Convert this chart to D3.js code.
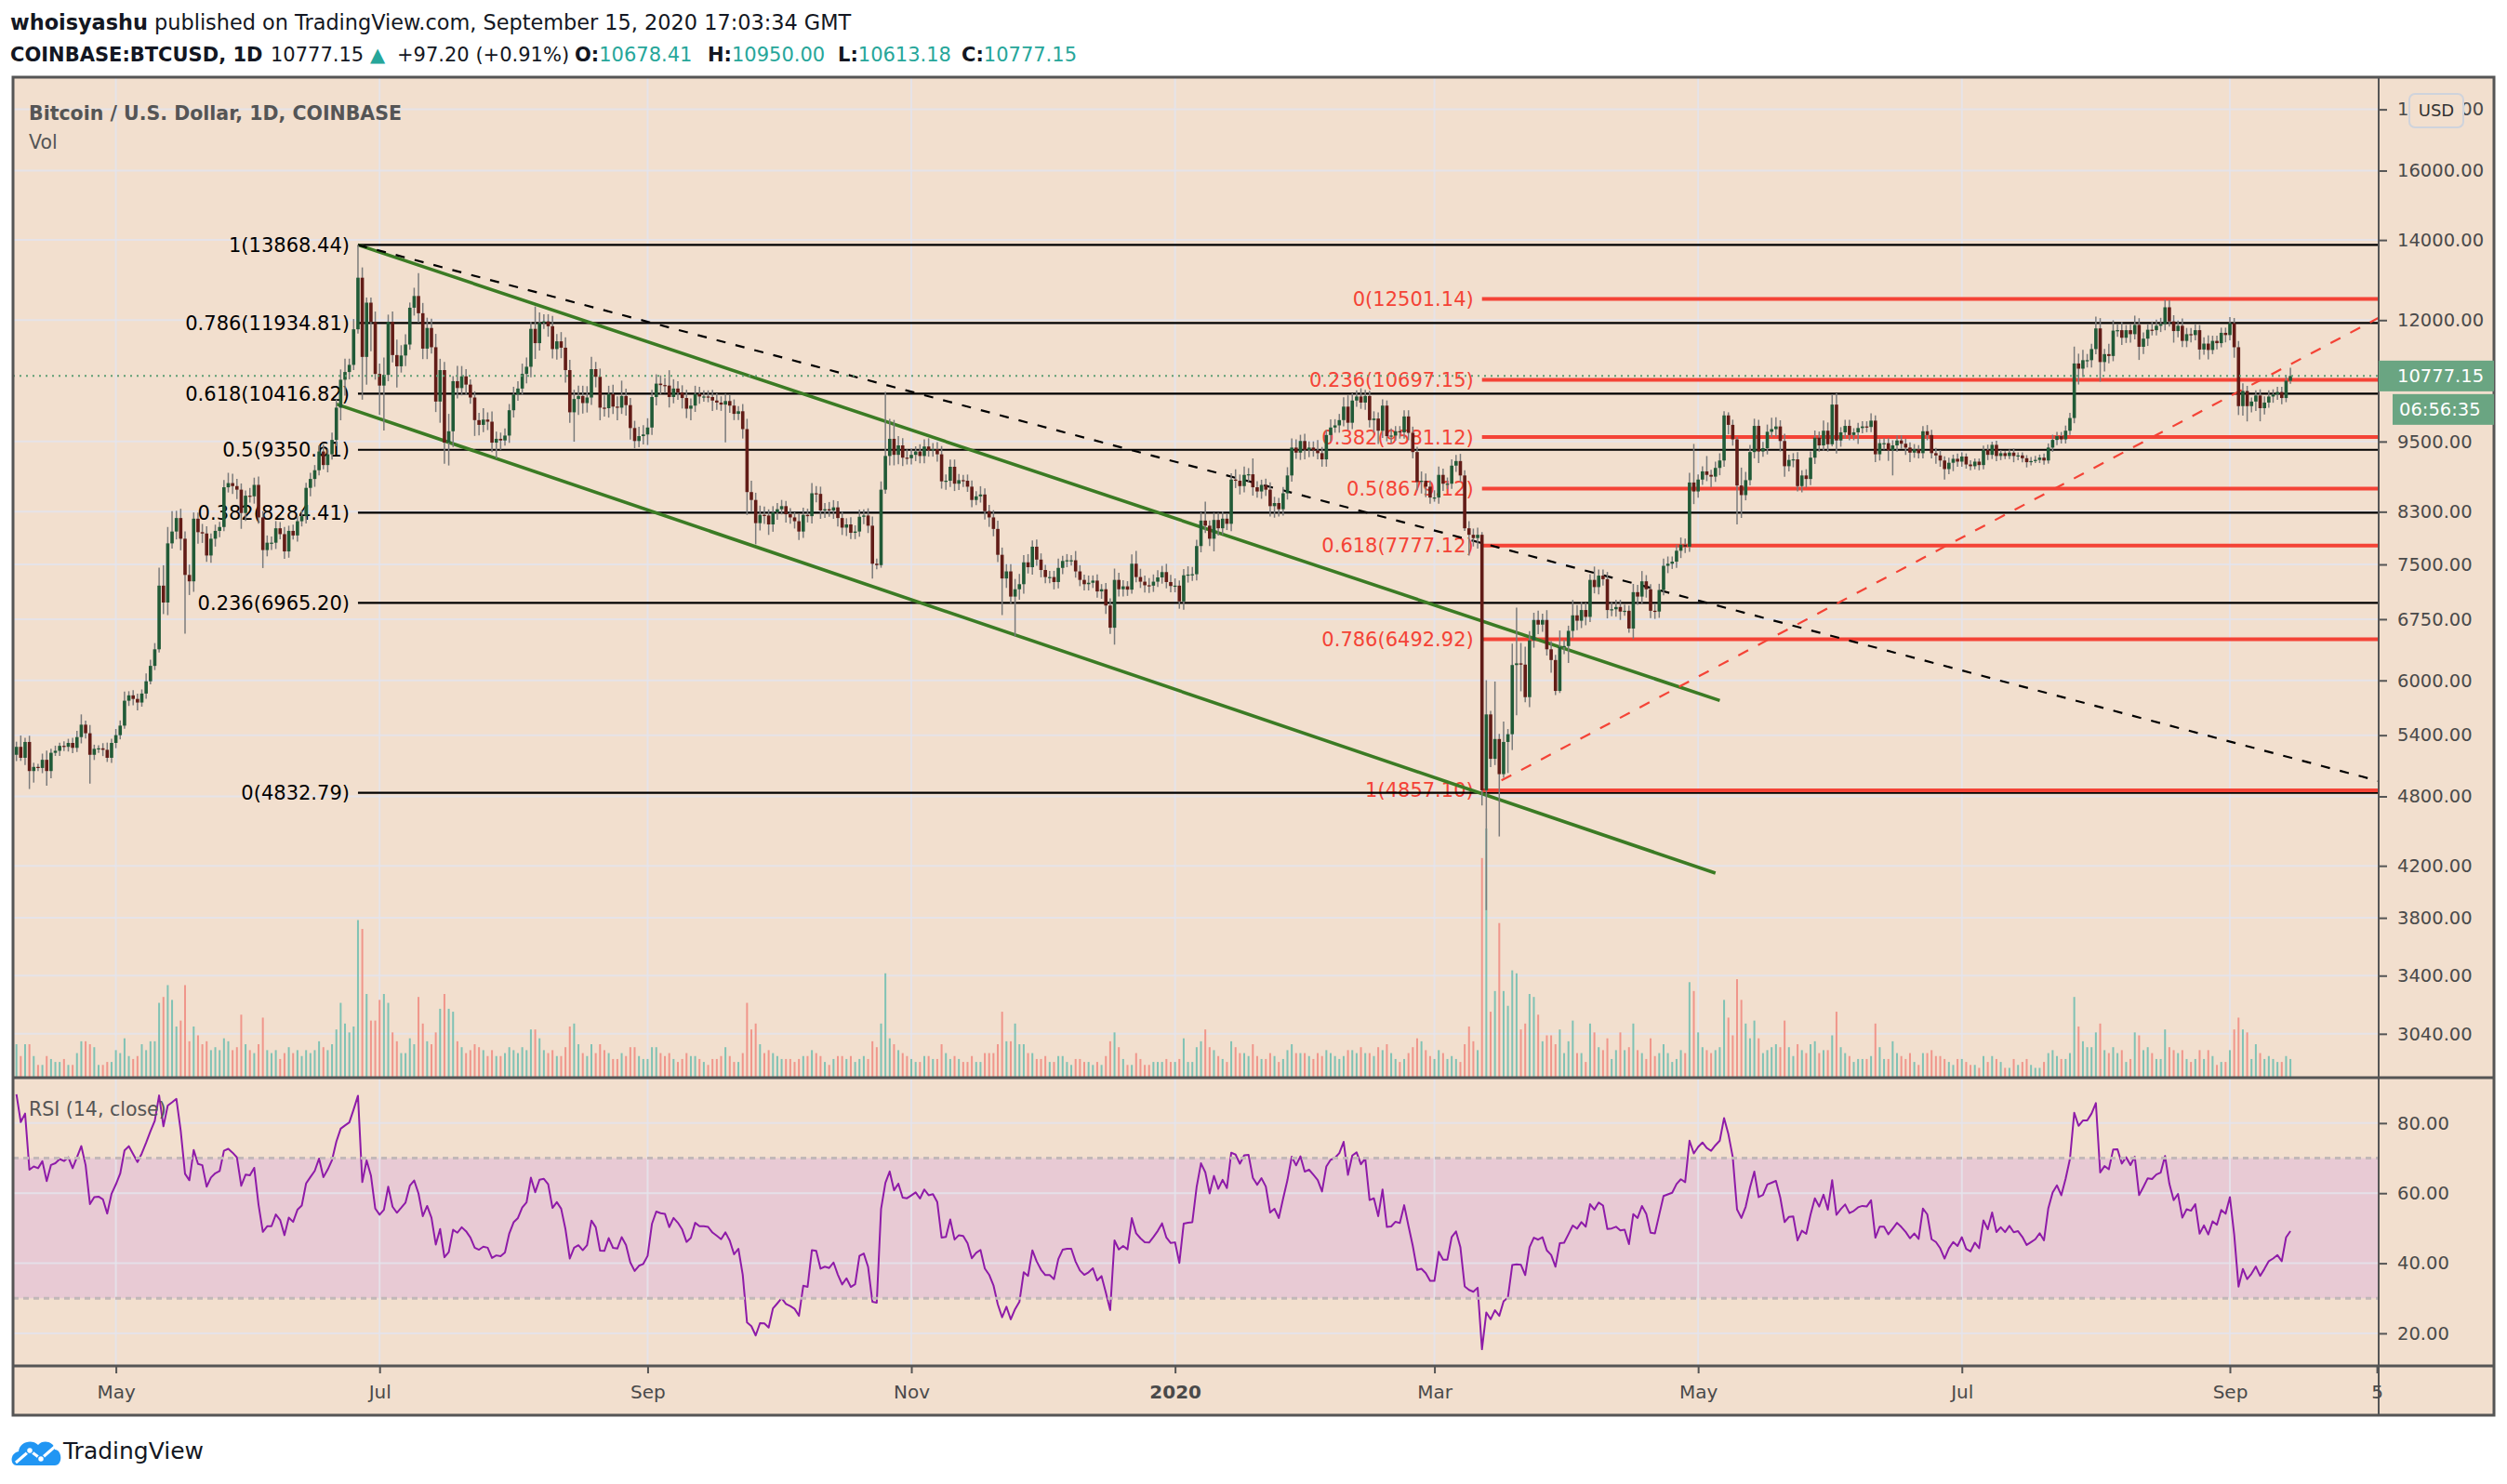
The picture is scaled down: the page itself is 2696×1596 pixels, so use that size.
<!DOCTYPE html>
<html>
<head>
<meta charset="utf-8">
<title>BTCUSD 1D</title>
<script src="https://cdn.jsdelivr.net/npm/d3@7"></script>
<style>
  html, body { margin: 0; padding: 0; background: #fff; }
  svg { display: block; }
</style>
</head>
<body>
<svg id="chart" width="2696" height="1596"></svg>
<script>
// ---------------- data ----------------
// daily bars from 2019-04-08 to 2020-09-15, grouped by month
const firstDay = Date.UTC(2019, 3, 8);
const monthLengths = [23, 31, 30, 31, 31, 30, 31, 30, 31, 31, 29, 31, 30, 31, 30, 31, 31, 15];

// closes of 2019-03-01 .. 2019-04-07 (only used to warm up the RSI)
const preCloses = [3835, 3830, 3800, 3715, 3860, 3875, 3880, 3865, 3945, 3920, 3870, 3885, 3870, 3865, 3910, 4000,
  3985, 3980, 4015, 4045, 3990, 3995, 4005, 3990, 3920, 3940, 4090, 4080, 4130, 4120, 4105,
  4145, 4890, 4960, 4910, 5040, 5060, 5200];

const closeRows = [
  [5280, 5170, 5330, 5040, 5080, 5070, 5150, 5040, 5220, 5240, 5290, 5280, 5320, 5270, 5380, 5510, 5420, 5200, 5260, 5265, 5250, 5170, 5320],
  [5400, 5500, 5770, 5830, 5790, 5750, 5850, 5990, 6170, 6370, 7200, 6970, 7810, 7990, 8200, 7880, 7350, 7260, 8190, 7980, 7960, 7630, 7880, 8000, 8060, 8700, 8770, 8720, 8660, 8280, 8560],
  [8550, 8740, 8210, 7710, 7820, 7820, 8040, 7950, 7690, 8000, 7930, 8150, 8230, 8690, 8840, 8990, 9320, 9080, 9270, 9530, 10140, 10700, 10860, 11010, 11790, 13020, 11180, 12410, 11960, 10820],
  [10580, 10800, 11960, 11220, 10980, 11210, 11450, 12290, 12570, 12160, 11360, 11820, 11390, 10260, 10900, 9480, 9690, 10670, 10530, 10770, 10600, 10340, 9900, 9810, 9910, 9870, 9480, 9550, 9520, 9610, 10090],
  [10400, 10520, 10820, 10970, 11800, 11480, 11940, 11970, 11860, 11350, 11520, 11380, 10900, 10050, 10310, 10370, 10230, 10340, 10920, 10760, 10140, 10130, 10410, 10160, 10140, 10370, 10190, 9750, 9510, 9600, 9630],
  [9760, 10350, 10620, 10590, 10580, 10350, 10520, 10440, 10330, 10120, 10180, 10410, 10360, 10360, 10350, 10280, 10240, 10200, 10270, 10180, 10020, 10070, 9730, 8620, 8490, 8120, 8250, 8240, 8100, 8290],
  [8340, 8390, 8260, 8210, 8150, 7990, 8250, 8230, 8600, 8590, 8320, 8340, 8320, 8370, 8200, 8050, 8100, 7970, 7990, 8220, 8240, 8080, 7510, 7490, 8660, 9240, 9550, 9260, 9430, 9210, 9200],
  [9260, 9320, 9240, 9410, 9340, 9360, 9270, 8800, 8810, 9050, 8760, 8820, 8810, 8710, 8490, 8550, 8580, 8310, 8210, 8030, 7640, 7300, 7400, 7050, 7150, 7220, 7530, 7460, 7760, 7570],
  [7420, 7320, 7320, 7250, 7450, 7550, 7560, 7560, 7400, 7280, 7220, 7240, 7270, 7120, 7150, 6930, 6640, 7280, 7150, 7190, 7145, 7510, 7320, 7255, 7205, 7200, 7255, 7315, 7390, 7250, 7195],
  [7200, 6985, 7345, 7355, 7360, 7770, 8160, 8080, 7880, 8170, 8040, 8190, 8110, 8830, 8810, 8720, 8910, 8920, 8700, 8630, 8740, 8660, 8390, 8440, 8340, 8600, 8900, 9390, 9300, 9510, 9350],
  [9390, 9340, 9290, 9180, 9620, 9760, 9800, 9900, 10160, 9850, 10280, 10360, 10240, 10370, 9900, 9930, 9700, 10180, 9600, 9610, 9690, 9670, 9970, 9660, 9310, 8790, 8810, 8710, 8530],
  [8530, 8910, 8760, 8760, 9070, 9150, 8900, 8040, 7940, 7890, 7940, 4857.1, 5620, 5160, 5360, 5010, 5330, 5410, 6180, 6200, 6185, 5810, 6480, 6740, 6680, 6740, 6370, 6240, 5880, 6400, 6410],
  [6600, 6800, 6730, 6870, 6780, 7280, 7180, 7340, 7290, 6870, 6880, 6910, 6850, 6860, 6630, 7110, 7050, 7260, 7150, 6860, 6850, 7140, 7480, 7510, 7540, 7700, 7790, 7760, 8780, 8630],
  [8830, 8970, 8910, 8880, 9030, 9160, 9990, 9810, 9540, 8730, 8570, 8820, 9310, 9790, 9320, 9380, 9680, 9730, 9780, 9510, 9060, 9170, 9180, 8720, 8900, 8840, 9210, 9570, 9430, 9700, 9450],
  [10200, 9520, 9670, 9790, 9620, 9670, 9750, 9780, 9770, 9890, 9270, 9470, 9470, 9340, 9430, 9520, 9460, 9390, 9300, 9360, 9290, 9690, 9620, 9290, 9250, 9160, 9010, 9120, 9190, 9140],
  [9230, 9090, 9060, 9140, 9080, 9350, 9260, 9440, 9240, 9290, 9240, 9300, 9240, 9250, 9200, 9130, 9150, 9170, 9210, 9160, 9390, 9530, 9600, 9540, 9700, 9940, 11040, 10930, 11110, 11110, 11350],
  [11810, 11070, 11240, 11200, 11760, 11770, 11600, 11770, 11680, 11890, 11400, 11580, 11780, 11770, 11870, 11910, 12300, 11970, 11750, 11870, 11530, 11680, 11660, 11770, 11340, 11470, 11330, 11530, 11480, 11710, 11660],
  [11930, 11390, 10170, 10470, 10170, 10260, 10380, 10130, 10240, 10360, 10400, 10450, 10330, 10678.41, 10777.15]
];

// upper / lower wick beyond the candle body, in per mille of the body end
const wickUpRows = [
  [10, 22, 8, 12, 8, 6, 12, 18, 8, 10, 6, 9, 8, 10, 12, 20, 8, 16, 8, 6, 10, 14, 8],
  [12, 10, 18, 8, 10, 10, 8, 15, 12, 12, 35, 40, 32, 40, 14, 18, 14, 20, 12, 12, 16, 14, 10, 12, 10, 14, 20, 18, 14, 12, 10],
  [15, 14, 16, 12, 14, 12, 14, 12, 14, 10, 12, 10, 12, 10, 12, 10, 12, 14, 10, 14, 16, 20, 26, 12, 20, 65, 20, 10, 10, 20],
  [20, 34, 14, 20, 30, 20, 20, 10, 16, 45, 20, 20, 18, 26, 22, 16, 34, 10, 30, 20, 14, 10, 12, 14, 22, 14, 20, 14, 12, 14, 12],
  [15, 14, 20, 18, 14, 44, 20, 14, 14, 20, 14, 18, 20, 20, 18, 20, 20, 22, 24, 14, 16, 24, 16, 18, 20, 30, 14, 14, 14, 18, 18],
  [18, 14, 18, 16, 14, 30, 18, 14, 14, 16, 14, 16, 14, 12, 12, 14, 14, 12, 14, 12, 12, 10, 14, 20, 22, 14, 18, 16, 12, 12],
  [12, 12, 10, 12, 10, 14, 14, 12, 20, 14, 14, 12, 14, 14, 12, 12, 12, 14, 12, 14, 12, 14, 18, 10, 16, 131, 39, 37, 18, 14, 16],
  [12, 10, 14, 14, 16, 12, 14, 16, 12, 14, 14, 12, 10, 12, 12, 10, 16, 12, 12, 14, 16, 14, 14, 14, 20, 20, 14, 16, 12, 14],
  [12, 10, 12, 12, 18, 10, 12, 10, 18, 12, 10, 14, 10, 12, 10, 12, 14, 22, 14, 12, 10, 18, 25, 16, 12, 14, 14, 14, 12, 16, 14],
  [14, 10, 12, 16, 14, 12, 16, 37, 10, 14, 14, 14, 10, 12, 20, 12, 16, 12, 31, 12, 10, 12, 14, 12, 10, 12, 16, 18, 16, 12, 14],
  [12, 12, 20, 12, 10, 16, 12, 12, 18, 22, 14, 12, 16, 12, 10, 14, 12, 12, 10, 14, 10, 10, 12, 12, 12, 10, 18, 14, 12],
  [14, 16, 12, 12, 12, 12, 14, 10, 14, 12, 14, 5, 68, 7, 117, 10, 40, 10, 42, 113, 40, 35, 18, 14, 18, 12, 19, 16, 10, 32, 12],
  [10, 30, 20, 16, 14, 11, 26, 12, 12, 14, 14, 14, 14, 12, 10, 16, 14, 20, 12, 10, 14, 12, 14, 14, 10, 12, 14, 12, 19, 77],
  [10, 10, 30, 10, 12, 14, 8, 6, 10, 5, 35, 16, 14, 14, 12, 12, 14, 22, 18, 12, 14, 10, 12, 14, 10, 12, 12, 14, 12, 20, 16],
  [20, 22, 10, 12, 12, 8, 10, 10, 10, 14, 10, 8, 10, 10, 10, 10, 10, 10, 10, 10, 8, 10, 12, 10, 10, 10, 8, 10, 8, 10],
  [8, 6, 8, 6, 6, 8, 10, 6, 8, 6, 4, 6, 8, 6, 6, 6, 8, 8, 6, 8, 8, 10, 8, 8, 10, 10, 33, 19, 20, 12, 10],
  [23, 20, 10, 20, 20, 12, 16, 10, 12, 18, 13, 12, 10, 16, 12, 12, 15, 14, 12, 10, 14, 12, 12, 12, 10, 12, 16, 10, 10, 10, 10],
  [12, 10, 12, 15, 10, 8, 10, 12, 12, 12, 10, 10, 10, 11, 16]
];
const wickDnRows = [
  [12, 6, 14, 34, 22, 6, 10, 28, 14, 6, 10, 8, 9, 10, 8, 12, 10, 54, 10, 8, 12, 8, 10],
  [10, 8, 6, 10, 12, 15, 8, 10, 6, 8, 6, 22, 24, 10, 15, 22, 107, 26, 20, 22, 18, 12, 14, 15, 12, 8, 10, 15, 18, 30, 15],
  [12, 14, 12, 34, 12, 14, 12, 10, 14, 12, 8, 12, 10, 14, 16, 15, 10, 8, 14, 10, 12, 24, 30, 14, 10, 8, 79, 52, 55, 11],
  [55, 83, 12, 14, 40, 12, 20, 10, 15, 18, 20, 20, 12, 20, 40, 40, 43, 30, 20, 14, 20, 12, 30, 20, 14, 16, 18, 30, 18, 10, 14],
  [14, 12, 12, 18, 20, 30, 14, 12, 20, 18, 20, 20, 24, 20, 55, 30, 20, 18, 14, 20, 24, 16, 18, 14, 24, 12, 20, 22, 14, 12, 16],
  [20, 14, 16, 18, 14, 20, 12, 14, 20, 18, 22, 12, 14, 10, 10, 20, 14, 12, 70, 14, 12, 12, 18, 43, 22, 40, 14, 16, 20, 14],
  [14, 10, 16, 12, 14, 16, 12, 12, 14, 16, 16, 14, 12, 16, 16, 14, 16, 12, 12, 10, 14, 14, 28, 8, 5, 8, 18, 20, 18, 16, 12],
  [12, 12, 14, 14, 12, 12, 14, 14, 16, 12, 14, 12, 12, 10, 14, 10, 12, 16, 18, 14, 14, 68, 18, 14, 74, 20, 18, 12, 14, 12],
  [14, 12, 12, 14, 12, 12, 12, 10, 12, 12, 12, 12, 10, 12, 14, 16, 12, 32, 14, 14, 12, 8, 10, 12, 14, 14, 12, 10, 12, 12, 12],
  [12, 14, 16, 14, 12, 12, 12, 14, 14, 24, 14, 12, 12, 14, 14, 16, 12, 14, 16, 12, 14, 12, 20, 22, 14, 12, 12, 12, 12, 14, 18],
  [14, 12, 12, 14, 14, 12, 10, 14, 12, 14, 12, 12, 12, 14, 14, 24, 25, 14, 10, 14, 10, 12, 12, 14, 12, 16, 22, 20, 12],
  [8, 12, 14, 10, 10, 12, 12, 5, 39, 16, 20, 29, 206, 16, 12, 113, 7, 58, 30, 92, 50, 10, 19, 14, 18, 14, 12, 24, 8, 4, 14],
  [32, 14, 18, 14, 16, 10, 12, 14, 12, 16, 12, 14, 16, 8, 8, 20, 16, 14, 16, 14, 14, 12, 10, 14, 10, 12, 14, 12, 10, 24],
  [12, 10, 12, 20, 10, 14, 12, 18, 12, 72, 43, 10, 10, 12, 22, 10, 12, 10, 14, 20, 20, 10, 14, 10, 12, 16, 12, 12, 12, 10, 14],
  [4, 25, 12, 12, 10, 10, 22, 10, 10, 10, 15, 12, 12, 20, 47, 12, 10, 14, 18, 10, 10, 10, 10, 10, 16, 12, 20, 10, 16, 10],
  [10, 8, 8, 6, 10, 8, 10, 8, 10, 8, 6, 6, 12, 8, 8, 10, 6, 4, 6, 8, 6, 8, 10, 8, 8, 8, 10, 30, 16, 14, 14],
  [10, 37, 18, 14, 10, 12, 14, 10, 16, 10, 25, 14, 14, 10, 10, 12, 12, 10, 22, 12, 12, 12, 14, 10, 19, 10, 18, 8, 12, 8, 14],
  [10, 20, 17, 18, 29, 12, 18, 25, 12, 10, 12, 10, 12, 8, 6]
];

// volume, thousand BTC
const volumeRows = [
  [11, 7, 11, 11, 7, 4, 4, 7, 6, 5, 5, 6, 4, 4, 8, 12, 12, 11, 10, 4, 4, 5, 5],
  [9, 8, 13, 7, 6, 7, 11, 9, 12, 12, 25, 27, 31, 26, 17, 19, 31, 12, 17, 14, 11, 12, 9, 10, 9, 13, 12, 9, 10, 21, 11],
  [9, 8, 11, 20, 9, 8, 9, 6, 8, 10, 8, 9, 7, 9, 8, 9, 12, 10, 9, 11, 16, 25, 18, 15, 17, 53, 50, 28, 19, 19],
  [26, 28, 25, 15, 12, 8, 8, 13, 11, 27, 18, 12, 11, 15, 23, 28, 23, 22, 12, 10, 8, 9, 11, 10, 9, 7, 9, 7, 7, 8, 10],
  [9, 8, 10, 9, 16, 16, 13, 9, 8, 9, 7, 7, 10, 17, 18, 11, 8, 7, 11, 8, 11, 9, 8, 6, 6, 8, 7, 10, 10, 7, 6],
  [6, 10, 10, 8, 7, 8, 6, 5, 6, 8, 7, 7, 6, 5, 4, 6, 6, 7, 10, 7, 5, 5, 8, 25, 16, 18, 11, 8, 9, 8],
  [7, 6, 6, 6, 5, 6, 7, 7, 9, 8, 7, 5, 4, 6, 7, 7, 6, 7, 5, 6, 7, 6, 12, 10, 18, 35, 13, 11, 9, 8, 7],
  [6, 5, 5, 7, 7, 6, 6, 11, 8, 6, 7, 6, 5, 5, 7, 5, 5, 8, 8, 8, 11, 22, 12, 12, 18, 11, 11, 8, 8, 6],
  [6, 7, 5, 5, 7, 7, 5, 4, 6, 6, 5, 5, 4, 5, 4, 7, 12, 15, 10, 6, 4, 4, 8, 6, 4, 4, 5, 5, 5, 6, 5],
  [5, 6, 13, 5, 5, 10, 12, 16, 10, 9, 7, 6, 5, 12, 10, 8, 8, 7, 11, 7, 6, 6, 8, 7, 5, 6, 9, 11, 8, 8, 8],
  [7, 6, 8, 7, 9, 8, 7, 6, 7, 9, 9, 8, 10, 8, 8, 7, 10, 9, 11, 8, 6, 5, 6, 8, 10, 13, 12, 9, 7],
  [6, 9, 8, 6, 7, 6, 5, 11, 17, 12, 9, 74, 84, 22, 29, 52, 29, 24, 36, 35, 16, 18, 28, 27, 21, 12, 14, 14, 11, 16, 8],
  [12, 19, 8, 8, 5, 18, 15, 10, 9, 13, 6, 9, 15, 9, 10, 18, 9, 8, 6, 13, 7, 8, 11, 8, 5, 6, 9, 8, 32, 29],
  [15, 10, 9, 8, 9, 10, 26, 20, 14, 33, 26, 18, 13, 19, 13, 8, 9, 10, 11, 10, 19, 10, 7, 11, 9, 8, 11, 12, 8, 9, 9],
  [14, 22, 10, 8, 7, 5, 6, 6, 6, 7, 18, 10, 6, 6, 12, 8, 7, 6, 8, 5, 4, 8, 8, 9, 7, 7, 6, 5, 4, 6],
  [6, 5, 4, 4, 3, 7, 5, 7, 6, 5, 3, 3, 6, 4, 5, 6, 4, 3, 3, 5, 8, 9, 7, 6, 6, 8, 27, 17, 12, 10, 10],
  [15, 18, 9, 8, 10, 8, 9, 5, 6, 15, 14, 9, 10, 8, 6, 6, 16, 10, 9, 8, 9, 6, 5, 6, 9, 6, 9, 7, 4, 5, 5],
  [9, 16, 20, 16, 15, 6, 11, 8, 6, 7, 6, 5, 5, 7, 6]
];

// right price axis and RSI axis
const priceTicks = [18000, 16000, 14000, 12000, 9500, 8300, 7500, 6750, 6000, 5400, 4800, 4200, 3800, 3400, 3040];
const rsiTicks = [20, 40, 60, 80];
const timeTicks = [Date.UTC(2019, 4, 1), Date.UTC(2019, 6, 1), Date.UTC(2019, 8, 1), Date.UTC(2019, 10, 1),
  Date.UTC(2020, 0, 1), Date.UTC(2020, 2, 1), Date.UTC(2020, 4, 1), Date.UTC(2020, 6, 1), Date.UTC(2020, 8, 1), Date.UTC(2020, 9, 5)];
const timeLabels = ["May", "Jul", "Sep", "Nov", "2020", "Mar", "May", "Jul", "Sep", "5"];

// visible window of the chart
const viewRange = [Date.UTC(2019, 3, 7, 5), Date.UTC(2020, 9, 5, 10)];
const priceRange = [2799, 19150];
const rsiRange = [10.7, 92.7];

// fibonacci retracements
const blackFibStart = Date.UTC(2019, 5, 26);
const blackFibLevels = [1, 0.786, 0.618, 0.5, 0.382, 0.236, 0];
const blackFibPrices = [13868.44, 11934.81, 10416.82, 9350.61, 8284.41, 6965.20, 4832.79];
const redFibStart = Date.UTC(2020, 2, 12);
const redFibLevels = [0, 0.236, 0.382, 0.5, 0.618, 0.786, 1];
const redFibPrices = [12501.14, 10697.15, 9581.12, 8679.12, 7777.12, 6492.92, 4857.10];

// trend lines: [time, price]
const channelUpper = [[Date.UTC(2019, 5, 26), 13868.44], [Date.UTC(2020, 4, 6), 5772]];
const channelLower = [[Date.UTC(2019, 5, 21), 10210], [Date.UTC(2020, 4, 5), 4141]];
const downTrend = [[Date.UTC(2019, 5, 26), 13868.44], [Date.UTC(2020, 9, 5, 10), 4944]];
const upTrend = [[Date.UTC(2020, 2, 16, 12), 4950], [Date.UTC(2020, 9, 5, 10), 12054]];

// header quote
const quoteLabels = ["O:", "H:", "L:", "C:"];
const quoteValues = [10678.41, 10950.00, 10613.18, 10777.15];
const lastChange = [97.20, 0.91];
const countdown = "06:56:35";

// ---------------- prepare ----------------
[closeRows, wickUpRows, wickDnRows, volumeRows].forEach((rows, k) => {
  if (rows.length !== monthLengths.length) throw new Error("rows " + k + ": " + rows.length);
  rows.forEach((r, i) => {
    if (r.length !== monthLengths[i]) throw new Error("array " + k + " month " + i + ": " + r.length + " vs " + monthLengths[i]);
  });
});

const closes = closeRows.flat();
const wickUp = wickUpRows.flat();
const wickDn = wickDnRows.flat();
const volumes = volumeRows.flat();

const bars = closes.map((c, i) => {
  const o = i ? closes[i - 1] : preCloses[preCloses.length - 1];
  const top = Math.max(o, c), bot = Math.min(o, c);
  return {
    date: new Date(firstDay + i * 864e5),
    o, c,
    h: top * (1 + wickUp[i] / 1000),
    l: bot * (1 - wickDn[i] / 1000),
    v: volumes[i]
  };
});

function rsiWilder(values, n) {
  const out = new Array(values.length).fill(null);
  let g = 0, l = 0;
  for (let i = 1; i < values.length; i++) {
    const d = values[i] - values[i - 1];
    const up = Math.max(d, 0), dn = Math.max(-d, 0);
    if (i <= n) {
      g += up; l += dn;
      if (i === n) { g /= n; l /= n; out[i] = 100 - 100 / (1 + g / l); }
    } else {
      g = (g * (n - 1) + up) / n;
      l = (l * (n - 1) + dn) / n;
      out[i] = l === 0 ? 100 : 100 - 100 / (1 + g / l);
    }
  }
  return out;
}
const rsiAll = rsiWilder(preCloses.concat(closes), 14);
bars.forEach((b, i) => { b.rsi = rsiAll[i + preCloses.length]; });

// ---------------- layout ----------------
const FONT = "'DejaVu Sans', Verdana, sans-serif";
const C = {
  bg: "#f2dfce", band: "#e8cad4", grid: "rgba(228,228,236,0.85)", frame: "#555555", text: "#4a4a4a",
  up: "#215a37", down: "#621c17", wick: "#7b7b7b", volUp: "#80c2b4", volDown: "#f0968b",
  rsi: "#8e1ba8", fibRed: "#f44336", channel: "#3b7b24", teal: "#26a69a", priceBox: "#6aa582"
};
const L = 14, R = 2682, T = 83, B = 1522, AX = 2558, PB = 1158, RT = 1160, RB = 1469;

const x = d3.scaleUtc().domain(viewRange).range([L, AX]);
const y = d3.scaleLog().domain(priceRange).range([PB, T]);
const yv = d3.scaleLinear().domain([0, d3.max(bars, d => d.v)]).range([PB, PB - 267]);
const yr = d3.scaleLinear().domain(rsiRange).range([RB, RT]);

const svg = d3.select("#chart").attr("font-family", FONT);

svg.append("rect").attr("width", 2696).attr("height", 1596).attr("fill", "#fff");
svg.append("rect").attr("x", L).attr("y", T).attr("width", R - L).attr("height", B - T).attr("fill", C.bg);

const defs = svg.append("defs");
defs.append("clipPath").attr("id", "clipMain")
  .append("rect").attr("x", L).attr("y", T).attr("width", AX - L).attr("height", PB - T);
defs.append("clipPath").attr("id", "clipRsi")
  .append("rect").attr("x", L).attr("y", RT).attr("width", AX - L).attr("height", RB - RT);

// RSI band 30..70
svg.append("rect")
  .attr("x", L).attr("width", AX - L)
  .attr("y", yr(70)).attr("height", yr(30) - yr(70))
  .attr("fill", C.band);

// grid
const grid = svg.append("g").attr("stroke", C.grid).attr("stroke-width", 2);
grid.selectAll("line.vg")
  .data(timeTicks.slice(0, -1))
  .join("line").attr("class", "vg")
    .attr("x1", d => x(d)).attr("x2", d => x(d))
    .attr("y1", T).attr("y2", RB);
grid.selectAll("line.hg")
  .data(priceTicks)
  .join("line").attr("class", "hg")
    .attr("x1", L).attr("x2", AX)
    .attr("y1", d => y(d)).attr("y2", d => y(d));
grid.selectAll("line.rg")
  .data(rsiTicks)
  .join("line").attr("class", "rg")
    .attr("x1", L).attr("x2", AX)
    .attr("y1", d => yr(d)).attr("y2", d => yr(d));

// volume
svg.append("g").attr("clip-path", "url(#clipMain)")
  .selectAll("rect")
  .data(bars)
  .join("rect")
    .attr("x", d => x(d.date) - 1)
    .attr("width", 2)
    .attr("y", d => yv(d.v))
    .attr("height", d => PB - yv(d.v))
    .attr("fill", d => d.c >= d.o ? C.volUp : C.volDown);

// fib labels (the candles are drawn over them)
const fibLabel = (lvl, p) => `${lvl}(${p.toFixed(2)})`;
const labels = svg.append("g").attr("font-size", 21).attr("text-anchor", "end");
labels.selectAll("text.fb")
  .data(blackFibPrices)
  .join("text").attr("class", "fb")
    .attr("x", x(blackFibStart) - 9)
    .attr("y", d => y(d))
    .attr("dy", "0.36em")
    .attr("fill", "#000")
    .text((d, i) => fibLabel(blackFibLevels[i], d));
labels.selectAll("text.fr")
  .data(redFibPrices)
  .join("text").attr("class", "fr")
    .attr("x", x(redFibStart) - 9)
    .attr("y", d => y(d))
    .attr("dy", "0.36em")
    .attr("fill", C.fibRed)
    .text((d, i) => fibLabel(redFibLevels[i], d));

// drawings
const draw = svg.append("g").attr("clip-path", "url(#clipMain)");
draw.selectAll("line.fb")
  .data(blackFibPrices)
  .join("line").attr("class", "fb")
    .attr("x1", x(blackFibStart)).attr("x2", AX)
    .attr("y1", d => y(d)).attr("y2", d => y(d))
    .attr("stroke", "#000").attr("stroke-width", 2.2);
draw.selectAll("line.fr")
  .data(redFibPrices)
  .join("line").attr("class", "fr")
    .attr("x1", x(redFibStart)).attr("x2", AX)
    .attr("y1", d => y(d)).attr("y2", d => y(d))
    .attr("stroke", C.fibRed).attr("stroke-width", 4);

const seg = d3.line().x(d => x(d[0])).y(d => y(d[1]));
draw.append("path").attr("d", seg(channelUpper)).attr("fill", "none").attr("stroke", C.channel).attr("stroke-width", 3.6);
draw.append("path").attr("d", seg(channelLower)).attr("fill", "none").attr("stroke", C.channel).attr("stroke-width", 3.6);
draw.append("path").attr("d", seg(downTrend)).attr("fill", "none").attr("stroke", "#000")
  .attr("stroke-width", 2.2).attr("stroke-dasharray", "10,11");
draw.append("path").attr("d", seg(upTrend)).attr("fill", "none").attr("stroke", C.fibRed)
  .attr("stroke-width", 2.2).attr("stroke-dasharray", "12,12");

// candles
const candles = svg.append("g").attr("clip-path", "url(#clipMain)");
candles.selectAll("line")
  .data(bars)
  .join("line")
    .attr("x1", d => x(d.date)).attr("x2", d => x(d.date))
    .attr("y1", d => y(d.h)).attr("y2", d => y(d.l))
    .attr("stroke", C.wick).attr("stroke-width", 1.5);
candles.selectAll("rect")
  .data(bars)
  .join("rect")
    .attr("x", d => x(d.date) - 1.8)
    .attr("width", 3.6)
    .attr("y", d => y(Math.max(d.o, d.c)))
    .attr("height", d => Math.max(1.2, y(Math.min(d.o, d.c)) - y(Math.max(d.o, d.c))))
    .attr("fill", d => d.c >= d.o ? C.up : C.down);

// last price dotted line
const last = bars[bars.length - 1];
svg.append("line")
  .attr("x1", L).attr("x2", AX)
  .attr("y1", y(last.c)).attr("y2", y(last.c))
  .attr("stroke", "#5f9e75").attr("stroke-width", 2).attr("stroke-dasharray", "2,5");

// RSI
svg.append("path")
  .datum(bars.filter(d => d.rsi != null))
  .attr("clip-path", "url(#clipRsi)")
  .attr("fill", "none")
  .attr("stroke", C.rsi)
  .attr("stroke-width", 2)
  .attr("stroke-linejoin", "round")
  .attr("d", d3.line().x(d => x(d.date)).y(d => yr(d.rsi)));

svg.append("g").selectAll("line")
  .data([70, 30])
  .join("line")
    .attr("x1", L).attr("x2", AX)
    .attr("y1", d => yr(d)).attr("y2", d => yr(d))
    .attr("stroke", "#c2b8b8").attr("stroke-width", 3).attr("stroke-dasharray", "6,5");

// frame and separators
const frame = svg.append("g").attr("stroke", C.frame).attr("fill", "none");
frame.append("rect").attr("x", L).attr("y", T).attr("width", R - L).attr("height", B - T).attr("stroke-width", 3);
frame.append("line").attr("x1", L).attr("x2", R).attr("y1", PB + 1).attr("y2", PB + 1).attr("stroke-width", 3);
frame.append("line").attr("x1", L).attr("x2", R).attr("y1", RB).attr("y2", RB).attr("stroke-width", 3);
frame.append("line").attr("x1", AX).attr("x2", AX).attr("y1", T).attr("y2", B).attr("stroke-width", 2);

// axes
function styleAxis(g, size) {
  g.select(".domain").remove();
  g.selectAll(".tick line").attr("stroke", C.frame).attr("stroke-width", 2);
  g.selectAll(".tick text").attr("fill", C.text).attr("font-size", size).attr("font-family", FONT);
}
svg.append("g")
  .attr("transform", `translate(${AX},0)`)
  .call(d3.axisRight(y).tickValues(priceTicks).tickFormat(d3.format(".2f")).tickSize(9).tickPadding(11))
  .call(g => styleAxis(g, 19.5));
svg.append("g")
  .attr("transform", `translate(${AX},0)`)
  .call(d3.axisRight(yr).tickValues(rsiTicks).tickFormat(d3.format(".2f")).tickSize(9).tickPadding(11))
  .call(g => styleAxis(g, 19.5));
svg.append("g")
  .attr("transform", `translate(0,${RB})`)
  .call(d3.axisBottom(x).tickValues(timeTicks).tickFormat((d, i) => timeLabels[i]).tickSize(8).tickPadding(13))
  .call(g => styleAxis(g, 20))
  .call(g => g.selectAll(".tick text").attr("font-weight", (d, i) => timeLabels[i] === "2020" ? "bold" : null));

// price boxes on the axis
const py = y(last.c);
svg.append("rect").attr("x", AX).attr("y", py - 16.5).attr("width", R - AX).attr("height", 33).attr("fill", C.priceBox);
svg.append("text").attr("x", AX + 20).attr("y", py).attr("dy", "0.36em")
  .attr("fill", "#fff").attr("font-size", 19.5).text(last.c.toFixed(2));
svg.append("rect").attr("x", AX + 15).attr("y", py + 19.5).attr("width", R - AX - 15).attr("height", 33).attr("fill", C.priceBox);
svg.append("text").attr("x", AX + 22).attr("y", py + 36).attr("dy", "0.36em")
  .attr("fill", "#fff").attr("font-size", 19.5).text(countdown);

// USD button (sits over the top price label, as on the original)
svg.append("rect").attr("x", 2591).attr("y", 101).attr("width", 58).attr("height", 36).attr("rx", 6)
  .attr("fill", C.bg).attr("stroke", "#cfd3dc").attr("stroke-width", 2);
svg.append("text").attr("x", 2620).attr("y", 119).attr("dy", "0.36em").attr("text-anchor", "middle")
  .attr("fill", "#333").attr("font-size", 18).text("USD");

// pane titles
svg.append("text").attr("x", 31).attr("y", 129).attr("font-size", 20.5).attr("font-weight", "bold")
  .attr("fill", "#555").text("Bitcoin / U.S. Dollar, 1D, COINBASE");
svg.append("text").attr("x", 31).attr("y", 160).attr("font-size", 20.5).attr("fill", "#555").text("Vol");
svg.append("text").attr("x", 31).attr("y", 1200).attr("font-size", 20.5).attr("fill", "#555").text("RSI (14, close)");

// header
const h1 = svg.append("text").attr("x", 11).attr("y", 32).attr("font-size", 22.4).attr("fill", "#131722");
h1.append("tspan").attr("font-weight", "bold").text("whoisyashu");
h1.append("tspan").text(" published on TradingView.com, September 15, 2020 17:03:34 GMT");

const h2 = svg.append("g").attr("font-size", 21).attr("fill", "#131722");
h2.append("text").attr("x", 11).attr("y", 66).attr("font-weight", "bold").text("COINBASE:BTCUSD, 1D");
h2.append("text").attr("x", 291).attr("y", 66).text(last.c.toFixed(2));
h2.append("text").attr("x", 398).attr("y", 66).attr("fill", C.teal).text("▲");
h2.append("text").attr("x", 427).attr("y", 66).text(`+${lastChange[0].toFixed(2)} (+${lastChange[1].toFixed(2)}%)`);
const quoteX = [618, 761, 901, 1034];
quoteLabels.forEach((lab, i) => {
  const t = h2.append("text").attr("x", quoteX[i]).attr("y", 66);
  t.append("tspan").attr("font-weight", "bold").text(lab);
  t.append("tspan").attr("fill", C.teal).text(quoteValues[i].toFixed(2));
});

// TradingView logo
const logo = svg.append("g").attr("transform", "translate(12,1545)");
logo.append("path")
  .attr("d", "M6,31 C-1,31 -2,18 8,16 C9,6 22,2 29,9 C34,3 46,5 47,14 C55,14 56,31 47,31 Z")
  .attr("fill", "#2196f3");
logo.append("polyline").attr("points", "5,28 20,15 32,24 48,10")
  .attr("fill", "none").attr("stroke", "#fff").attr("stroke-width", 3);
logo.selectAll("circle").data([[20, 15], [32, 24]]).join("circle")
  .attr("cx", d => d[0]).attr("cy", d => d[1]).attr("r", 3.5)
  .attr("fill", "#fff").attr("stroke", "#2196f3").attr("stroke-width", 1.5);
svg.append("text").attr("x", 68).attr("y", 1569).attr("font-size", 25).attr("fill", "#131722").text("TradingView");
</script>
</body>
</html>
